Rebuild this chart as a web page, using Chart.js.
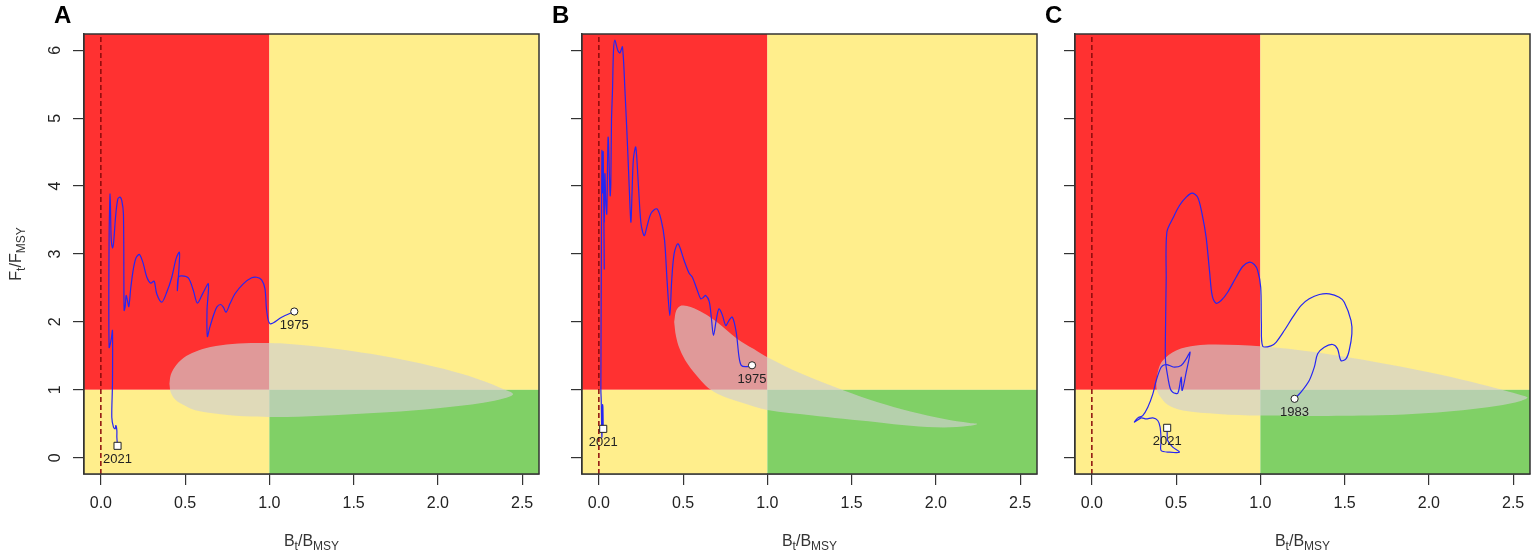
<!DOCTYPE html>
<html>
<head>
<meta charset="utf-8">
<script src="https://cdn.jsdelivr.net/npm/chart.js@4.4.1/dist/chart.umd.min.js"></script>
<style>
  html, body { margin: 0; padding: 0; background: #fff; }
  #wrap { position: relative; width: 1531px; height: 551px; overflow: hidden; }
  #wrap canvas { position: absolute; top: 0; }
</style>
</head>
<body>
<div id="wrap">
  <canvas id="kobeA" width="545" height="551"></canvas>
  <canvas id="kobeB" width="545" height="551"></canvas>
  <canvas id="kobeC" width="545" height="551"></canvas>
</div>
<script>
// values
const xTicks = [0, 0.5, 1, 1.5, 2, 2.5];
const yTicks = [0, 1, 2, 3, 4, 5, 6];
const panelLetters = ["A", "B", "C"];
const startYears = [1975, 1975, 1983];
const endYear = 2021;
const refB = 1;   // Bt/Bmsy = 1
const refF = 1;   // Ft/Fmsy = 1

// trajectories, first year -> 2021, [B/Bmsy, F/Fmsy]
const trajA = [
  [1.148,2.153],[1.073,2.069],[1.004,1.972],[0.984,2.168],[0.974,2.487],[0.954,2.62],[0.925,2.658],
  [0.895,2.649],[0.845,2.561],[0.796,2.414],[0.766,2.266],[0.743,2.143],[0.727,2.217],[0.711,2.256],
  [0.688,2.217],[0.668,2.094],[0.644,1.898],[0.632,1.785],[0.630,2.17],[0.638,2.56],[0.605,2.42],
  [0.573,2.276],[0.549,2.462],[0.519,2.649],[0.480,2.679],[0.460,2.658],[0.454,2.462],[0.464,2.806],
  [0.466,3.027],[0.446,2.929],[0.421,2.658],[0.391,2.437],[0.362,2.29],[0.332,2.41],[0.316,2.60],
  [0.296,2.57],[0.273,2.658],[0.249,2.88],[0.229,2.993],[0.209,2.944],[0.193,2.782],[0.178,2.511],
  [0.166,2.227],[0.158,2.315],[0.150,2.389],[0.144,2.217],[0.138,2.168],[0.134,3.592],[0.124,3.788],
  [0.114,3.837],[0.101,3.813],[0.089,3.592],[0.075,3.15],[0.069,3.09],[0.061,3.247],[0.055,3.887],
  [0.049,3.25],[0.049,1.627],[0.062,1.75],[0.069,1.873],[0.069,1.088],[0.065,0.597],[0.075,0.45],
  [0.085,0.425],[0.089,0.474],[0.095,0.4],[0.095,0.302],[0.099,0.175]
];
const trajB = [
  [0.909,1.361],[0.87,1.34],[0.845,1.36],[0.832,1.48],[0.815,1.85],[0.792,2.07],[0.772,2.02],
  [0.753,1.947],[0.733,2.1],[0.713,2.193],[0.698,2.05],[0.680,1.80],[0.668,2.05],[0.655,2.3],
  [0.634,2.39],[0.62,2.36],[0.605,2.34],[0.585,2.46],[0.555,2.658],[0.535,2.72],[0.506,2.904],
  [0.47,3.15],[0.447,3.01],[0.432,2.6],[0.421,2.094],[0.405,2.6],[0.39,3.2],[0.37,3.5],[0.344,3.665],
  [0.31,3.6],[0.285,3.4],[0.269,3.27],[0.25,3.45],[0.235,4.0],[0.219,4.573],[0.205,4.4],[0.197,3.9],
  [0.19,3.468],[0.18,4.0],[0.17,4.6],[0.155,5.4],[0.140,6.05],[0.125,5.96],[0.112,6.0],[0.095,6.149],
  [0.087,5.997],[0.081,5.408],[0.075,4.966],[0.071,4.034],[0.067,3.862],[0.055,4.72],[0.047,3.592],
  [0.041,3.788],[0.036,4.181],[0.032,3.468],[0.029,4.0],[0.032,2.78],[0.026,4.5],[0.022,3.9],
  [0.018,4.52],[0.015,3.0],[0.012,1.0],[0.014,0.85],[0.018,0.3],[0.022,0.78],[0.024,0.75],[0.026,0.425]
];
const trajC = [
  [1.203,0.867],[1.241,0.965],[1.29,1.137],[1.32,1.333],[1.34,1.53],[1.379,1.627],[1.429,1.667],
  [1.458,1.603],[1.478,1.431],[1.508,1.456],[1.527,1.579],[1.543,1.825],[1.538,2.02],[1.498,2.29],
  [1.468,2.364],[1.409,2.413],[1.35,2.403],[1.29,2.34],[1.241,2.241],[1.192,2.07],[1.142,1.873],
  [1.093,1.70],[1.063,1.648],[1.014,1.642],[1.006,1.972],[1.002,2.511],[0.984,2.757],[0.964,2.845],
  [0.935,2.879],[0.895,2.816],[0.856,2.658],[0.806,2.437],[0.767,2.315],[0.737,2.276],[0.714,2.389],
  [0.698,2.757],[0.678,3.248],[0.654,3.592],[0.628,3.837],[0.595,3.896],[0.56,3.837],[0.52,3.714],
  [0.484,3.542],[0.445,3.321],[0.441,2.61],[0.437,1.873],[0.437,1.43],[0.45,1.2],[0.465,1.02],
  [0.48,0.965],[0.51,0.95],[0.53,1.186],[0.536,0.99],[0.56,1.26],[0.583,1.554],[0.56,1.456],
  [0.53,1.358],[0.49,1.333],[0.461,1.358],[0.437,1.373],[0.411,1.333],[0.382,1.137],[0.362,0.941],
  [0.332,0.744],[0.302,0.621],[0.273,0.587],[0.253,0.523],[0.293,0.587],[0.322,0.572],[0.362,0.587],
  [0.391,0.548],[0.405,0.45],[0.411,0.253],[0.411,0.106],[0.461,0.081],[0.52,0.081],[0.48,0.155],
  [0.45,0.253],[0.447,0.352],[0.447,0.44]
];

// outlines of the grey confidence regions
const regionA = [
  [0.407,1.09],[0.415,1.22],[0.44,1.34],[0.49,1.47],[0.56,1.56],[0.65,1.63],[0.78,1.675],[0.93,1.69],
  [1.1,1.68],[1.38,1.61],[1.6,1.53],[1.8,1.44],[2.0,1.33],[2.15,1.23],[2.27,1.13],[2.38,1.02],
  [2.446,0.94],[2.4,0.88],[2.27,0.81],[2.0,0.73],[1.7,0.67],[1.38,0.627],[1.1,0.60],[0.9,0.605],
  [0.7,0.645],[0.56,0.70],[0.48,0.79],[0.44,0.86],[0.415,0.96],[0.407,1.09]
];
const regionB = [
  [0.447,2.0],[0.46,2.17],[0.49,2.24],[0.545,2.22],[0.62,2.13],[0.70,2.0],[0.822,1.75],[0.92,1.6],
  [1.0,1.48],[1.2,1.24],[1.454,0.99],[1.65,0.82],[1.849,0.68],[2.05,0.57],[2.2,0.51],[2.245,0.498],
  [2.2,0.47],[2.047,0.445],[1.85,0.47],[1.652,0.523],[1.45,0.575],[1.257,0.627],[1.0,0.704],
  [0.85,0.81],[0.74,0.90],[0.664,1.0],[0.605,1.137],[0.526,1.383],[0.48,1.6],[0.457,1.8],[0.447,2.0]
];
const regionC = [
  [0.382,1.10],[0.395,1.3],[0.421,1.431],[0.5,1.579],[0.619,1.652],[0.737,1.667],[1.0,1.643],
  [1.33,1.554],[1.705,1.40],[2.0,1.26],[2.25,1.12],[2.45,0.99],[2.55,0.92],[2.585,0.885],[2.55,0.84],
  [2.4,0.76],[2.2,0.70],[2.0,0.66],[1.705,0.625],[1.3,0.615],[1.0,0.62],[0.75,0.645],[0.54,0.695],
  [0.45,0.78],[0.405,0.90],[0.385,1.0],[0.382,1.10]
];

const trajs = [trajA, trajB, trajC];
const regions = [regionA, regionB, regionC];

// layout
const canvasIds = ["kobeA", "kobeB", "kobeC"];
const canvasLeft = [0, 498, 991];
const xMin = -0.1, xMax = 2.6, yMin = -0.24, yMax = 6.24;
const FONT = "'Liberation Sans', Arial, Helvetica, sans-serif";
const RED = "#ff3131", YELLOW = "#ffee8c", GREEN = "#80d066";

Chart.defaults.font.family = FONT;

const toXY = arr => arr.map(([x, y]) => ({ x, y }));

// text with subscripts, e.g. B_t / B_MSY
function drawSubText(ctx, parts, x, y) {
  const big = "16px " + FONT, small = "12px " + FONT;
  let w = 0;
  parts.forEach(([t, sub]) => { ctx.font = sub ? small : big; w += ctx.measureText(t).width; });
  let cx = x - w / 2;
  ctx.textAlign = "left";
  ctx.textBaseline = "alphabetic";
  parts.forEach(([t, sub]) => {
    ctx.font = sub ? small : big;
    ctx.fillText(t, cx, sub ? y + 4 : y);
    cx += ctx.measureText(t).width;
  });
}

const kobePlugin = {
  id: "kobe",
  beforeDatasetsDraw(chart) {
    const { ctx, chartArea: a, scales: { x, y } } = chart;
    const bx = x.getPixelForValue(refB);
    const fy = y.getPixelForValue(refF);
    ctx.save();
    ctx.fillStyle = RED;
    ctx.fillRect(a.left, a.top, bx - a.left, fy - a.top);
    ctx.fillStyle = YELLOW;
    ctx.fillRect(bx, a.top, a.right - bx, fy - a.top);
    ctx.fillRect(a.left, fy, bx - a.left, a.bottom - fy);
    ctx.fillStyle = GREEN;
    ctx.fillRect(bx, fy, a.right - bx, a.bottom - fy);
    ctx.restore();
  },
  afterDatasetsDraw(chart) {
    const { ctx, scales: { x, y } } = chart;
    const i = chart.options.plugins.kobe.panel;
    const traj = trajs[i];
    const first = traj[0], last = traj[traj.length - 1];
    ctx.save();
    ctx.fillStyle = "#222";
    ctx.font = "13px " + FONT;
    ctx.textAlign = "center";
    ctx.textBaseline = "middle";
    ctx.fillText(String(startYears[i]), x.getPixelForValue(first[0]), y.getPixelForValue(first[1]) + 14);
    ctx.fillText(String(endYear), x.getPixelForValue(last[0]), y.getPixelForValue(last[1]) + 14);
    ctx.restore();
  },
  afterDraw(chart) {
    const { ctx, chartArea: a } = chart;
    const i = chart.options.plugins.kobe.panel;
    ctx.save();
    ctx.strokeStyle = "#333";
    ctx.lineWidth = 1.5;
    ctx.strokeRect(a.left, a.top, a.right - a.left, a.bottom - a.top);

    ctx.fillStyle = "#000";
    ctx.font = "bold 24px " + FONT;
    ctx.textAlign = "left";
    ctx.textBaseline = "middle";
    ctx.fillText(panelLetters[i], a.left - 30, 16);

    ctx.fillStyle = "#333";
    drawSubText(ctx, [["B", false], ["t", true], ["/", false], ["B", false], ["MSY", true]],
      (a.left + a.right) / 2, 546);

    if (i === 0) {
      ctx.translate(21, (a.top + a.bottom) / 2);
      ctx.rotate(-Math.PI / 2);
      drawSubText(ctx, [["F", false], ["t", true], ["/", false], ["F", false], ["MSY", true]], 0, 0);
    }
    ctx.restore();
  }
};

function makeChart(i) {
  const pts = toXY(trajs[i]);
  const canvas = document.getElementById(canvasIds[i]);
  canvas.style.left = canvasLeft[i] + "px";

  return new Chart(canvas, {
    type: "scatter",
    data: {
      datasets: [
        {
          data: toXY(regions[i]),
          showLine: true,
          fill: "shape",
          backgroundColor: "rgba(208,208,208,0.66)",
          borderColor: "rgba(0,0,0,0)",
          borderWidth: 0,
          pointRadius: 0,
          tension: 0.35,
          order: 5
        },
        {
          data: [{ x: 0, y: yMin }, { x: 0, y: yMax }],
          showLine: true,
          borderColor: "#8b0a0a",
          borderWidth: 1.5,
          borderDash: [5, 3],
          pointRadius: 0,
          order: 4
        },
        {
          data: pts,
          showLine: true,
          borderColor: "#2626f2",
          borderWidth: 1.2,
          pointRadius: 0,
          tension: 0.3,
          order: 3
        },
        {
          data: [pts[0]],
          pointStyle: "circle",
          pointRadius: 3.6,
          backgroundColor: "#fff",
          borderColor: "#222",
          borderWidth: 1,
          order: 2
        },
        {
          data: [pts[pts.length - 1]],
          pointStyle: "rect",
          pointRadius: 5,
          backgroundColor: "#fff",
          borderColor: "#222",
          borderWidth: 1,
          order: 1
        }
      ]
    },
    options: {
      responsive: false,
      animation: false,
      events: [],
      layout: { padding: { left: 0, right: 6, top: 34, bottom: 0 } },
      plugins: {
        legend: { display: false },
        tooltip: { enabled: false },
        kobe: { panel: i }
      },
      scales: {
        x: {
          type: "linear",
          min: xMin,
          max: xMax,
          afterBuildTicks: s => { s.ticks = xTicks.map(v => ({ value: v })); },
          afterFit: s => { s.height = 77; },
          ticks: {
            callback: v => Number(v).toFixed(1),
            color: "#222",
            font: { size: 16 },
            padding: 9,
            maxRotation: 0,
            autoSkip: false
          },
          grid: { drawOnChartArea: false, drawTicks: true, tickLength: 11, color: "#333", lineWidth: 1.2 },
          border: { color: "#333", width: 1.5 }
        },
        y: {
          type: "linear",
          min: yMin,
          max: yMax,
          afterBuildTicks: s => { s.ticks = yTicks.map(v => ({ value: v })); },
          afterFit: s => { s.width = 84; },
          ticks: {
            display: i === 0,
            callback: v => String(v),
            color: "#222",
            font: { size: 16 },
            padding: 13,
            minRotation: 90,
            maxRotation: 90,
            crossAlign: "center",
            autoSkip: false
          },
          grid: { drawOnChartArea: false, drawTicks: true, tickLength: 11, color: "#333", lineWidth: 1.2 },
          border: { color: "#333", width: 1.5 }
        }
      }
    },
    plugins: [kobePlugin]
  });
}

panelLetters.forEach((_, i) => makeChart(i));
</script>
</body>
</html>
